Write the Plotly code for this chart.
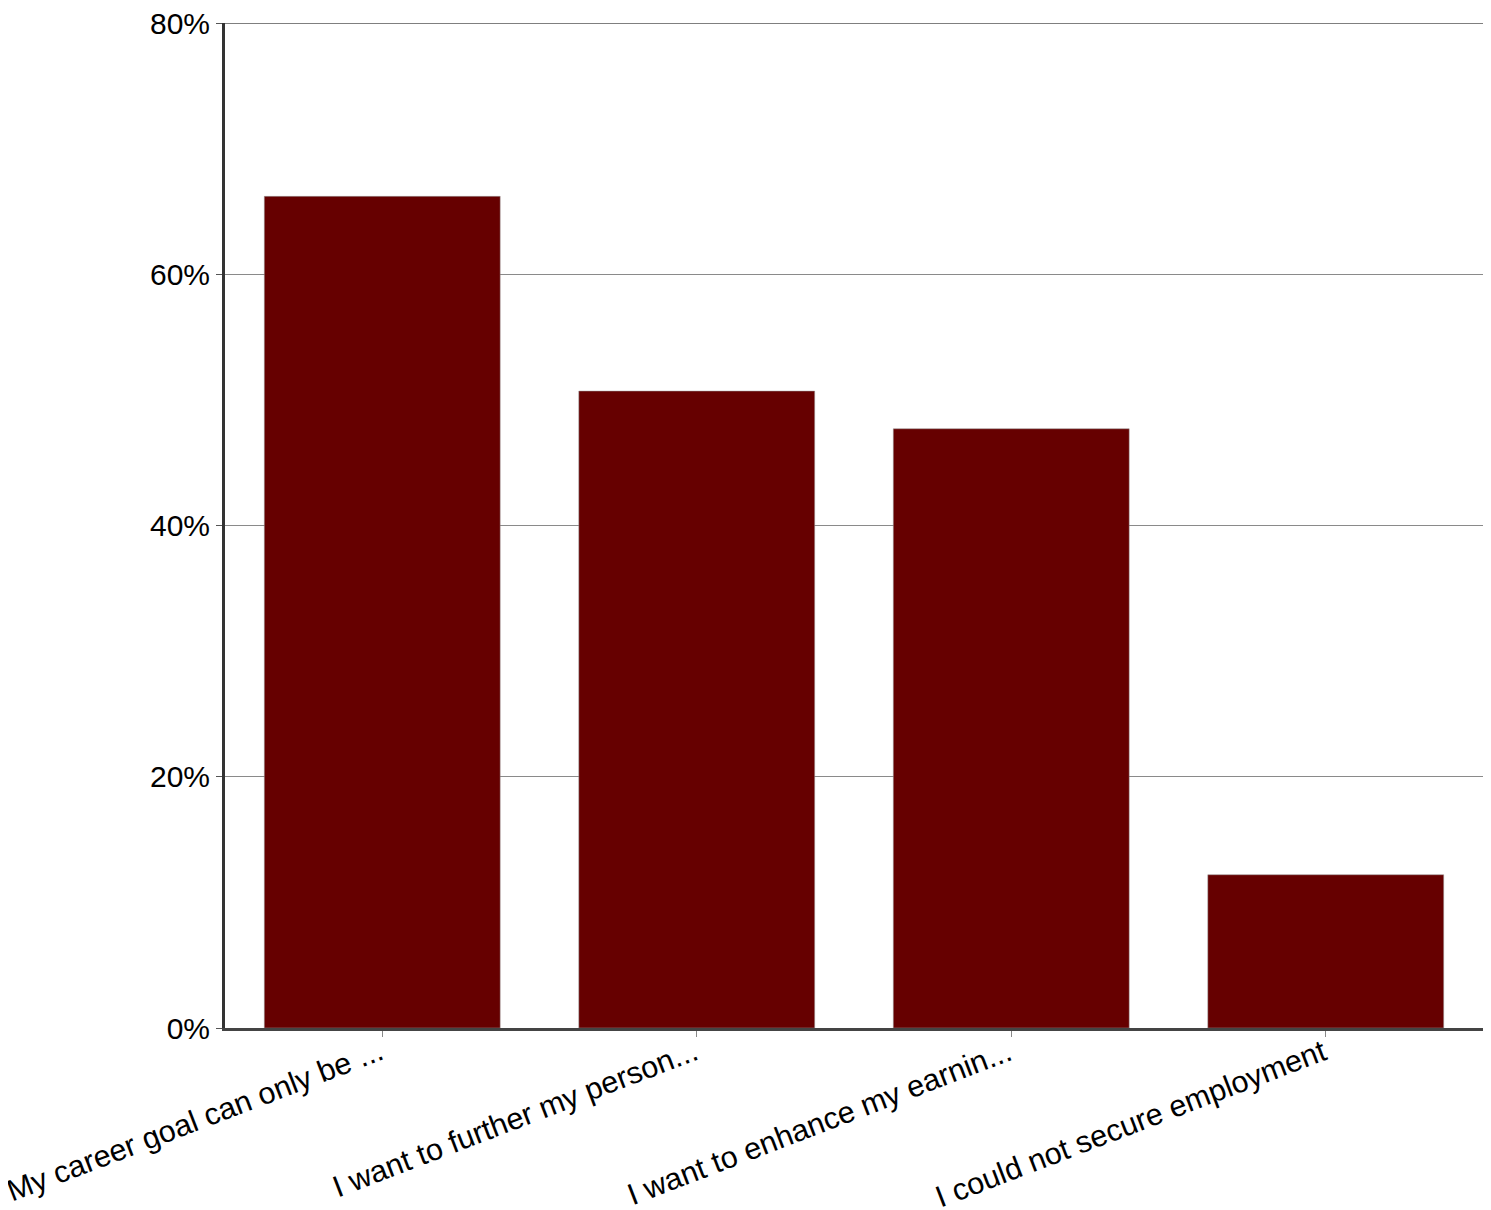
import plotly.graph_objects as go

categories = [
    "My career goal can only be ...",
    "I want to further my person...",
    "I want to enhance my earnin...",
    "I could not secure employment",
]
values = [66.2, 50.7, 47.7, 12.2]
y_tickvals = [0, 20, 40, 60, 80]
y_ticktext = ["0%", "20%", "40%", "60%", "80%"]

fig = go.Figure(
    go.Bar(
        x=categories,
        y=values,
        marker=dict(color="#660000", line=dict(color="#999999", width=0.5)),
        width=0.75,
    )
)

# the page body has an 8px default margin, so the figure is sized to fit the window
fig.update_layout(
    width=1483,
    height=1202,
    margin=dict(l=217, r=8, t=15, b=182),
    plot_bgcolor="white",
    paper_bgcolor="white",
    font=dict(family="Liberation Sans, Arial, sans-serif", color="black"),
    showlegend=False,
    bargap=0.25,
)

# top gridline at the maximum tick (plotly omits gridlines at the range edge)
fig.add_shape(
    type="line", xref="paper", x0=0, x1=1, yref="y",
    y0=y_tickvals[-1], y1=y_tickvals[-1],
    line=dict(color="#555555", width=1.5), layer="below",
)

# rotated category labels, placed at each category's position on the x axis
for i, cat in enumerate(categories):
    fig.add_annotation(
        x=i, xref="x", y=0, yref="paper",
        text=cat, showarrow=False, textangle=-21,
        xanchor="right", yanchor="top",
        xshift=8, yshift=-2,
        font=dict(size=30.5, color="black"),
    )

fig.update_yaxes(
    range=[0, 80],
    tickvals=y_tickvals,
    ticktext=y_ticktext,
    tickfont=dict(size=30),
    ticklabeloverflow="allow",
    showgrid=True,
    gridcolor="#8a8a8a",
    gridwidth=1,
    showline=True,
    linecolor="#333333",
    linewidth=3,
    ticks="outside",
    ticklen=6,
    tickcolor="#555555",
    zeroline=False,
    automargin=False,
)

fig.update_xaxes(
    type="category",
    categoryorder="array",
    categoryarray=categories,
    range=[-0.5, len(categories) - 0.5],
    showticklabels=False,
    showline=True,
    linecolor="#444444",
    linewidth=3,
    ticks="outside",
    ticklen=6,
    tickcolor="#888888",
    showgrid=False,
    automargin=False,
)

fig.write_html("out.html")
